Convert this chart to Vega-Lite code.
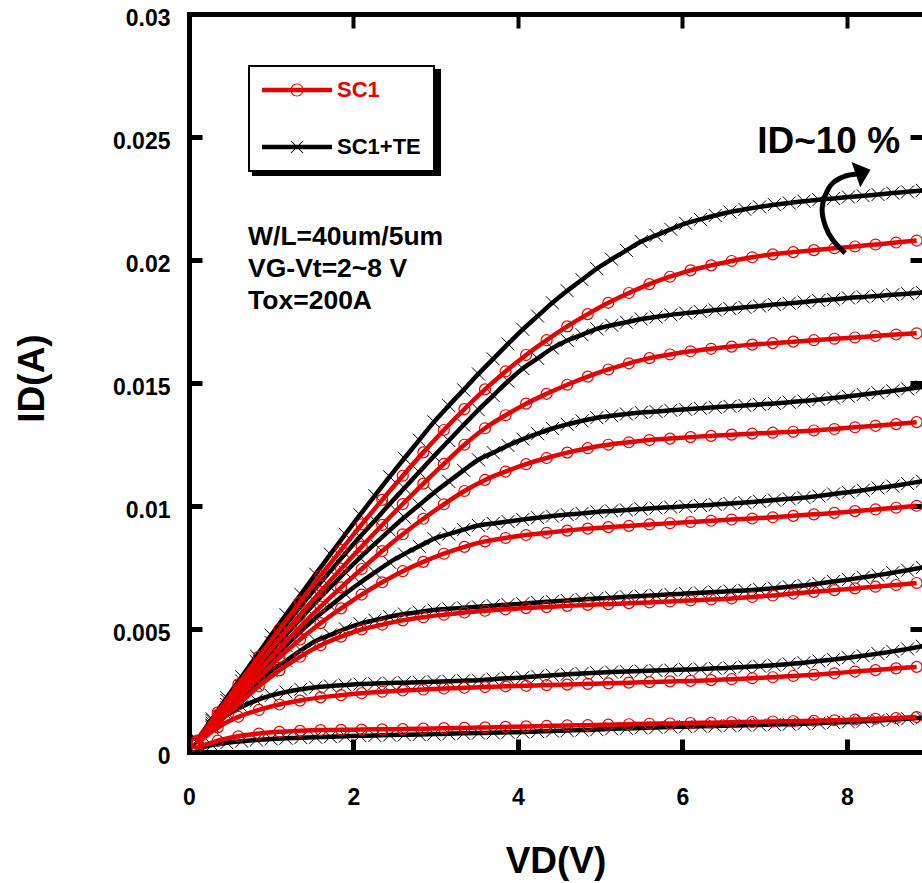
{
"$schema":"https://vega.github.io/schema/vega-lite/v6.json",
"width":733,"height":738,
"autosize":{"type":"none"},
"padding":{"left":189,"top":14,"right":0,"bottom":131},
"background":"white",
"config":{
 "view":{"stroke":null},
 "font":"Liberation Sans",
 "axis":{"grid":false,"domainColor":"black","tickColor":"black","labelColor":"black","titleColor":"black","labelFont":"Liberation Sans","titleFont":"Liberation Sans","labelFontWeight":"bold","titleFontWeight":"bold","domainWidth":5,"domainCap":"square","labelFlush":false},
 "legend":{"strokeWidth":2}
},
"datasets":{
"one":[{"k":1}],
"leg":[{"s":"SC1"},{"s":"SC1+TE"}],
"arrow":[{"i":0,"x":7.98,"y":0.02028},{"i":1,"x":7.83,"y":0.02081},{"i":2,"x":7.74,"y":0.02138},{"i":3,"x":7.70,"y":0.02203},{"i":4,"x":7.74,"y":0.02264},{"i":5,"x":7.83,"y":0.02313},{"i":6,"x":7.98,"y":0.02341},{"i":7,"x":8.12,"y":0.0235}],
"iv":[
{"c":"B7","x":0.1,"y":0.00049},{"c":"B7","x":0.28,"y":0.00135},{"c":"B7","x":0.46,"y":0.00221},{"c":"B7","x":0.64,"y":0.00306},{"c":"B7","x":0.82,"y":0.0039},{"c":"B7","x":1.0,"y":0.00475},{"c":"B7","x":1.18,"y":0.00558},{"c":"B7","x":1.36,"y":0.00641},{"c":"B7","x":1.54,"y":0.00723},{"c":"B7","x":1.72,"y":0.00804},{"c":"B7","x":1.9,"y":0.00885},{"c":"B7","x":2.08,"y":0.00964},{"c":"B7","x":2.26,"y":0.01042},{"c":"B7","x":2.44,"y":0.01119},{"c":"B7","x":2.62,"y":0.01194},{"c":"B7","x":2.8,"y":0.01268},{"c":"B7","x":2.98,"y":0.01342},{"c":"B7","x":3.16,"y":0.01408},{"c":"B7","x":3.34,"y":0.01472},{"c":"B7","x":3.52,"y":0.01537},{"c":"B7","x":3.7,"y":0.01598},{"c":"B7","x":3.88,"y":0.01659},{"c":"B7","x":4.06,"y":0.01718},{"c":"B7","x":4.24,"y":0.01772},{"c":"B7","x":4.42,"y":0.01826},{"c":"B7","x":4.6,"y":0.01875},{"c":"B7","x":4.78,"y":0.0192},{"c":"B7","x":4.96,"y":0.01965},{"c":"B7","x":5.14,"y":0.02003},{"c":"B7","x":5.32,"y":0.02039},{"c":"B7","x":5.5,"y":0.02075},{"c":"B7","x":5.68,"y":0.021},{"c":"B7","x":5.86,"y":0.02125},{"c":"B7","x":6.04,"y":0.02149},{"c":"B7","x":6.22,"y":0.02165},{"c":"B7","x":6.4,"y":0.02181},{"c":"B7","x":6.58,"y":0.02195},{"c":"B7","x":6.76,"y":0.02206},{"c":"B7","x":6.94,"y":0.02216},{"c":"B7","x":7.12,"y":0.02225},{"c":"B7","x":7.3,"y":0.02232},{"c":"B7","x":7.48,"y":0.02239},{"c":"B7","x":7.66,"y":0.02245},{"c":"B7","x":7.84,"y":0.0225},{"c":"B7","x":8.02,"y":0.02256},{"c":"B7","x":8.2,"y":0.02261},{"c":"B7","x":8.38,"y":0.02266},{"c":"B7","x":8.56,"y":0.02272},{"c":"B7","x":8.74,"y":0.02277},{"c":"B7","x":8.92,"y":0.02283},
{"c":"B6","x":0.1,"y":0.00046},{"c":"B6","x":0.28,"y":0.00128},{"c":"B6","x":0.46,"y":0.0021},{"c":"B6","x":0.64,"y":0.00289},{"c":"B6","x":0.82,"y":0.00367},{"c":"B6","x":1.0,"y":0.00445},{"c":"B6","x":1.18,"y":0.00519},{"c":"B6","x":1.36,"y":0.00593},{"c":"B6","x":1.54,"y":0.00666},{"c":"B6","x":1.72,"y":0.00736},{"c":"B6","x":1.9,"y":0.00806},{"c":"B6","x":2.08,"y":0.00875},{"c":"B6","x":2.26,"y":0.00941},{"c":"B6","x":2.44,"y":0.01008},{"c":"B6","x":2.62,"y":0.01073},{"c":"B6","x":2.8,"y":0.01138},{"c":"B6","x":2.98,"y":0.01203},{"c":"B6","x":3.16,"y":0.01266},{"c":"B6","x":3.34,"y":0.01329},{"c":"B6","x":3.52,"y":0.01391},{"c":"B6","x":3.7,"y":0.01449},{"c":"B6","x":3.88,"y":0.01507},{"c":"B6","x":4.06,"y":0.01559},{"c":"B6","x":4.24,"y":0.016},{"c":"B6","x":4.42,"y":0.01642},{"c":"B6","x":4.6,"y":0.01673},{"c":"B6","x":4.78,"y":0.01696},{"c":"B6","x":4.96,"y":0.0172},{"c":"B6","x":5.14,"y":0.01735},{"c":"B6","x":5.32,"y":0.01747},{"c":"B6","x":5.5,"y":0.0176},{"c":"B6","x":5.68,"y":0.01768},{"c":"B6","x":5.86,"y":0.01777},{"c":"B6","x":6.04,"y":0.01784},{"c":"B6","x":6.22,"y":0.0179},{"c":"B6","x":6.4,"y":0.01797},{"c":"B6","x":6.58,"y":0.01802},{"c":"B6","x":6.76,"y":0.01808},{"c":"B6","x":6.94,"y":0.01813},{"c":"B6","x":7.12,"y":0.01819},{"c":"B6","x":7.3,"y":0.01824},{"c":"B6","x":7.48,"y":0.01829},{"c":"B6","x":7.66,"y":0.01835},{"c":"B6","x":7.84,"y":0.0184},{"c":"B6","x":8.02,"y":0.01846},{"c":"B6","x":8.2,"y":0.0185},{"c":"B6","x":8.38,"y":0.01854},{"c":"B6","x":8.56,"y":0.01859},{"c":"B6","x":8.74,"y":0.01863},{"c":"B6","x":8.92,"y":0.01868},
{"c":"B5","x":0.1,"y":0.00042},{"c":"B5","x":0.28,"y":0.00118},{"c":"B5","x":0.46,"y":0.00193},{"c":"B5","x":0.64,"y":0.00266},{"c":"B5","x":0.82,"y":0.00338},{"c":"B5","x":1.0,"y":0.0041},{"c":"B5","x":1.18,"y":0.00477},{"c":"B5","x":1.36,"y":0.00543},{"c":"B5","x":1.54,"y":0.00609},{"c":"B5","x":1.72,"y":0.0067},{"c":"B5","x":1.9,"y":0.00731},{"c":"B5","x":2.08,"y":0.0079},{"c":"B5","x":2.26,"y":0.00846},{"c":"B5","x":2.44,"y":0.00901},{"c":"B5","x":2.62,"y":0.00954},{"c":"B5","x":2.8,"y":0.01004},{"c":"B5","x":2.98,"y":0.01054},{"c":"B5","x":3.16,"y":0.011},{"c":"B5","x":3.34,"y":0.01145},{"c":"B5","x":3.52,"y":0.01188},{"c":"B5","x":3.7,"y":0.01217},{"c":"B5","x":3.88,"y":0.01246},{"c":"B5","x":4.06,"y":0.01272},{"c":"B5","x":4.24,"y":0.01294},{"c":"B5","x":4.42,"y":0.01315},{"c":"B5","x":4.6,"y":0.01332},{"c":"B5","x":4.78,"y":0.01346},{"c":"B5","x":4.96,"y":0.01359},{"c":"B5","x":5.14,"y":0.01367},{"c":"B5","x":5.32,"y":0.01374},{"c":"B5","x":5.5,"y":0.0138},{"c":"B5","x":5.68,"y":0.01384},{"c":"B5","x":5.86,"y":0.01389},{"c":"B5","x":6.04,"y":0.01393},{"c":"B5","x":6.22,"y":0.01397},{"c":"B5","x":6.4,"y":0.01401},{"c":"B5","x":6.58,"y":0.01405},{"c":"B5","x":6.76,"y":0.01409},{"c":"B5","x":6.94,"y":0.01413},{"c":"B5","x":7.12,"y":0.01417},{"c":"B5","x":7.3,"y":0.01422},{"c":"B5","x":7.48,"y":0.01427},{"c":"B5","x":7.66,"y":0.01433},{"c":"B5","x":7.84,"y":0.01439},{"c":"B5","x":8.02,"y":0.01446},{"c":"B5","x":8.2,"y":0.01453},{"c":"B5","x":8.38,"y":0.0146},{"c":"B5","x":8.56,"y":0.01468},{"c":"B5","x":8.74,"y":0.01476},{"c":"B5","x":8.92,"y":0.01484},
{"c":"B4","x":0.1,"y":0.00039},{"c":"B4","x":0.28,"y":0.00109},{"c":"B4","x":0.46,"y":0.00179},{"c":"B4","x":0.64,"y":0.00245},{"c":"B4","x":0.82,"y":0.0031},{"c":"B4","x":1.0,"y":0.00375},{"c":"B4","x":1.18,"y":0.00433},{"c":"B4","x":1.36,"y":0.0049},{"c":"B4","x":1.54,"y":0.00546},{"c":"B4","x":1.72,"y":0.00594},{"c":"B4","x":1.9,"y":0.00643},{"c":"B4","x":2.08,"y":0.00688},{"c":"B4","x":2.26,"y":0.0073},{"c":"B4","x":2.44,"y":0.00771},{"c":"B4","x":2.62,"y":0.00805},{"c":"B4","x":2.8,"y":0.00836},{"c":"B4","x":2.98,"y":0.00867},{"c":"B4","x":3.16,"y":0.00886},{"c":"B4","x":3.34,"y":0.00904},{"c":"B4","x":3.52,"y":0.00921},{"c":"B4","x":3.7,"y":0.00929},{"c":"B4","x":3.88,"y":0.00937},{"c":"B4","x":4.06,"y":0.00945},{"c":"B4","x":4.24,"y":0.00952},{"c":"B4","x":4.42,"y":0.00959},{"c":"B4","x":4.6,"y":0.00965},{"c":"B4","x":4.78,"y":0.0097},{"c":"B4","x":4.96,"y":0.00976},{"c":"B4","x":5.14,"y":0.0098},{"c":"B4","x":5.32,"y":0.00984},{"c":"B4","x":5.5,"y":0.00988},{"c":"B4","x":5.68,"y":0.00992},{"c":"B4","x":5.86,"y":0.00995},{"c":"B4","x":6.04,"y":0.00999},{"c":"B4","x":6.22,"y":0.01002},{"c":"B4","x":6.4,"y":0.01006},{"c":"B4","x":6.58,"y":0.0101},{"c":"B4","x":6.76,"y":0.01014},{"c":"B4","x":6.94,"y":0.01019},{"c":"B4","x":7.12,"y":0.01024},{"c":"B4","x":7.3,"y":0.01029},{"c":"B4","x":7.48,"y":0.01034},{"c":"B4","x":7.66,"y":0.01041},{"c":"B4","x":7.84,"y":0.01049},{"c":"B4","x":8.02,"y":0.01056},{"c":"B4","x":8.2,"y":0.01064},{"c":"B4","x":8.38,"y":0.01073},{"c":"B4","x":8.56,"y":0.01081},{"c":"B4","x":8.74,"y":0.01091},{"c":"B4","x":8.92,"y":0.01101},
{"c":"B3","x":0.1,"y":0.00035},{"c":"B3","x":0.28,"y":0.00098},{"c":"B3","x":0.46,"y":0.00161},{"c":"B3","x":0.64,"y":0.00218},{"c":"B3","x":0.82,"y":0.00274},{"c":"B3","x":1.0,"y":0.0033},{"c":"B3","x":1.18,"y":0.00371},{"c":"B3","x":1.36,"y":0.00413},{"c":"B3","x":1.54,"y":0.00451},{"c":"B3","x":1.72,"y":0.00476},{"c":"B3","x":1.9,"y":0.00501},{"c":"B3","x":2.08,"y":0.00521},{"c":"B3","x":2.26,"y":0.00536},{"c":"B3","x":2.44,"y":0.0055},{"c":"B3","x":2.62,"y":0.00561},{"c":"B3","x":2.8,"y":0.00569},{"c":"B3","x":2.98,"y":0.00577},{"c":"B3","x":3.16,"y":0.00582},{"c":"B3","x":3.34,"y":0.00586},{"c":"B3","x":3.52,"y":0.0059},{"c":"B3","x":3.7,"y":0.00595},{"c":"B3","x":3.88,"y":0.00599},{"c":"B3","x":4.06,"y":0.00603},{"c":"B3","x":4.24,"y":0.00608},{"c":"B3","x":4.42,"y":0.00612},{"c":"B3","x":4.6,"y":0.00616},{"c":"B3","x":4.78,"y":0.0062},{"c":"B3","x":4.96,"y":0.00624},{"c":"B3","x":5.14,"y":0.00627},{"c":"B3","x":5.32,"y":0.00631},{"c":"B3","x":5.5,"y":0.00634},{"c":"B3","x":5.68,"y":0.00637},{"c":"B3","x":5.86,"y":0.00641},{"c":"B3","x":6.04,"y":0.00644},{"c":"B3","x":6.22,"y":0.00647},{"c":"B3","x":6.4,"y":0.0065},{"c":"B3","x":6.58,"y":0.00654},{"c":"B3","x":6.76,"y":0.00657},{"c":"B3","x":6.94,"y":0.00661},{"c":"B3","x":7.12,"y":0.00666},{"c":"B3","x":7.3,"y":0.00672},{"c":"B3","x":7.48,"y":0.00677},{"c":"B3","x":7.66,"y":0.00685},{"c":"B3","x":7.84,"y":0.00693},{"c":"B3","x":8.02,"y":0.00701},{"c":"B3","x":8.2,"y":0.0071},{"c":"B3","x":8.38,"y":0.00719},{"c":"B3","x":8.56,"y":0.00729},{"c":"B3","x":8.74,"y":0.00739},{"c":"B3","x":8.92,"y":0.0075},
{"c":"B2","x":0.1,"y":0.00042},{"c":"B2","x":0.28,"y":0.00105},{"c":"B2","x":0.46,"y":0.0015},{"c":"B2","x":0.64,"y":0.00184},{"c":"B2","x":0.82,"y":0.0021},{"c":"B2","x":1.0,"y":0.0023},{"c":"B2","x":1.18,"y":0.00244},{"c":"B2","x":1.36,"y":0.00255},{"c":"B2","x":1.54,"y":0.00263},{"c":"B2","x":1.72,"y":0.00268},{"c":"B2","x":1.9,"y":0.00272},{"c":"B2","x":2.08,"y":0.00276},{"c":"B2","x":2.26,"y":0.00278},{"c":"B2","x":2.44,"y":0.0028},{"c":"B2","x":2.62,"y":0.00282},{"c":"B2","x":2.8,"y":0.00284},{"c":"B2","x":2.98,"y":0.00286},{"c":"B2","x":3.16,"y":0.00288},{"c":"B2","x":3.34,"y":0.0029},{"c":"B2","x":3.52,"y":0.00292},{"c":"B2","x":3.7,"y":0.00296},{"c":"B2","x":3.88,"y":0.003},{"c":"B2","x":4.06,"y":0.00303},{"c":"B2","x":4.24,"y":0.00308},{"c":"B2","x":4.42,"y":0.00312},{"c":"B2","x":4.6,"y":0.00316},{"c":"B2","x":4.78,"y":0.00319},{"c":"B2","x":4.96,"y":0.00322},{"c":"B2","x":5.14,"y":0.00325},{"c":"B2","x":5.32,"y":0.00327},{"c":"B2","x":5.5,"y":0.00329},{"c":"B2","x":5.68,"y":0.00331},{"c":"B2","x":5.86,"y":0.00333},{"c":"B2","x":6.04,"y":0.00335},{"c":"B2","x":6.22,"y":0.00337},{"c":"B2","x":6.4,"y":0.0034},{"c":"B2","x":6.58,"y":0.00342},{"c":"B2","x":6.76,"y":0.00346},{"c":"B2","x":6.94,"y":0.00349},{"c":"B2","x":7.12,"y":0.00353},{"c":"B2","x":7.3,"y":0.00358},{"c":"B2","x":7.48,"y":0.00363},{"c":"B2","x":7.66,"y":0.0037},{"c":"B2","x":7.84,"y":0.00376},{"c":"B2","x":8.02,"y":0.00383},{"c":"B2","x":8.2,"y":0.00391},{"c":"B2","x":8.38,"y":0.004},{"c":"B2","x":8.56,"y":0.00409},{"c":"B2","x":8.74,"y":0.00419},{"c":"B2","x":8.92,"y":0.0043},
{"c":"B1","x":0.1,"y":0.00013},{"c":"B1","x":0.28,"y":0.00028},{"c":"B1","x":0.46,"y":0.00038},{"c":"B1","x":0.64,"y":0.00044},{"c":"B1","x":0.82,"y":0.00049},{"c":"B1","x":1.0,"y":0.00053},{"c":"B1","x":1.18,"y":0.00056},{"c":"B1","x":1.36,"y":0.00058},{"c":"B1","x":1.54,"y":0.0006},{"c":"B1","x":1.72,"y":0.00062},{"c":"B1","x":1.9,"y":0.00064},{"c":"B1","x":2.08,"y":0.00066},{"c":"B1","x":2.26,"y":0.00067},{"c":"B1","x":2.44,"y":0.00069},{"c":"B1","x":2.62,"y":0.0007},{"c":"B1","x":2.8,"y":0.00071},{"c":"B1","x":2.98,"y":0.00073},{"c":"B1","x":3.16,"y":0.00074},{"c":"B1","x":3.34,"y":0.00076},{"c":"B1","x":3.52,"y":0.00077},{"c":"B1","x":3.7,"y":0.00078},{"c":"B1","x":3.88,"y":0.0008},{"c":"B1","x":4.06,"y":0.00081},{"c":"B1","x":4.24,"y":0.00083},{"c":"B1","x":4.42,"y":0.00085},{"c":"B1","x":4.6,"y":0.00087},{"c":"B1","x":4.78,"y":0.00089},{"c":"B1","x":4.96,"y":0.00091},{"c":"B1","x":5.14,"y":0.00094},{"c":"B1","x":5.32,"y":0.00096},{"c":"B1","x":5.5,"y":0.00098},{"c":"B1","x":5.68,"y":0.001},{"c":"B1","x":5.86,"y":0.00102},{"c":"B1","x":6.04,"y":0.00103},{"c":"B1","x":6.22,"y":0.00105},{"c":"B1","x":6.4,"y":0.00106},{"c":"B1","x":6.58,"y":0.00107},{"c":"B1","x":6.76,"y":0.00109},{"c":"B1","x":6.94,"y":0.0011},{"c":"B1","x":7.12,"y":0.00112},{"c":"B1","x":7.3,"y":0.00113},{"c":"B1","x":7.48,"y":0.00115},{"c":"B1","x":7.66,"y":0.00117},{"c":"B1","x":7.84,"y":0.0012},{"c":"B1","x":8.02,"y":0.00122},{"c":"B1","x":8.2,"y":0.00125},{"c":"B1","x":8.38,"y":0.00128},{"c":"B1","x":8.56,"y":0.00131},{"c":"B1","x":8.74,"y":0.00135},{"c":"B1","x":8.92,"y":0.00139},
{"c":"R7","x":0.1,"y":0.00046},{"c":"R7","x":0.35,"y":0.00161},{"c":"R7","x":0.6,"y":0.00275},{"c":"R7","x":0.85,"y":0.00388},{"c":"R7","x":1.1,"y":0.00499},{"c":"R7","x":1.35,"y":0.00609},{"c":"R7","x":1.6,"y":0.00717},{"c":"R7","x":1.85,"y":0.00822},{"c":"R7","x":2.1,"y":0.00925},{"c":"R7","x":2.35,"y":0.01025},{"c":"R7","x":2.6,"y":0.01123},{"c":"R7","x":2.85,"y":0.01218},{"c":"R7","x":3.1,"y":0.01309},{"c":"R7","x":3.35,"y":0.01394},{"c":"R7","x":3.6,"y":0.01474},{"c":"R7","x":3.85,"y":0.01547},{"c":"R7","x":4.1,"y":0.01614},{"c":"R7","x":4.35,"y":0.01674},{"c":"R7","x":4.6,"y":0.0173},{"c":"R7","x":4.85,"y":0.0178},{"c":"R7","x":5.1,"y":0.01826},{"c":"R7","x":5.35,"y":0.01866},{"c":"R7","x":5.6,"y":0.01902},{"c":"R7","x":5.85,"y":0.01932},{"c":"R7","x":6.1,"y":0.01958},{"c":"R7","x":6.35,"y":0.01978},{"c":"R7","x":6.6,"y":0.01996},{"c":"R7","x":6.85,"y":0.02011},{"c":"R7","x":7.1,"y":0.02023},{"c":"R7","x":7.35,"y":0.02032},{"c":"R7","x":7.6,"y":0.0204},{"c":"R7","x":7.85,"y":0.02048},{"c":"R7","x":8.1,"y":0.02055},{"c":"R7","x":8.35,"y":0.02063},{"c":"R7","x":8.6,"y":0.02071},{"c":"R7","x":8.85,"y":0.02079},
{"c":"R6","x":0.1,"y":0.00043},{"c":"R6","x":0.35,"y":0.00151},{"c":"R6","x":0.6,"y":0.00256},{"c":"R6","x":0.85,"y":0.00359},{"c":"R6","x":1.1,"y":0.00459},{"c":"R6","x":1.35,"y":0.00557},{"c":"R6","x":1.6,"y":0.00652},{"c":"R6","x":1.85,"y":0.00745},{"c":"R6","x":2.1,"y":0.00835},{"c":"R6","x":2.35,"y":0.00923},{"c":"R6","x":2.6,"y":0.01008},{"c":"R6","x":2.85,"y":0.01091},{"c":"R6","x":3.1,"y":0.01171},{"c":"R6","x":3.35,"y":0.01249},{"c":"R6","x":3.6,"y":0.01316},{"c":"R6","x":3.85,"y":0.01369},{"c":"R6","x":4.1,"y":0.01416},{"c":"R6","x":4.35,"y":0.01456},{"c":"R6","x":4.6,"y":0.01493},{"c":"R6","x":4.85,"y":0.01526},{"c":"R6","x":5.1,"y":0.01555},{"c":"R6","x":5.35,"y":0.0158},{"c":"R6","x":5.6,"y":0.01601},{"c":"R6","x":5.85,"y":0.01616},{"c":"R6","x":6.1,"y":0.01629},{"c":"R6","x":6.35,"y":0.01639},{"c":"R6","x":6.6,"y":0.01648},{"c":"R6","x":6.85,"y":0.01656},{"c":"R6","x":7.1,"y":0.01662},{"c":"R6","x":7.35,"y":0.01668},{"c":"R6","x":7.6,"y":0.01674},{"c":"R6","x":7.85,"y":0.0168},{"c":"R6","x":8.1,"y":0.01685},{"c":"R6","x":8.35,"y":0.01691},{"c":"R6","x":8.6,"y":0.01697},{"c":"R6","x":8.85,"y":0.01702},
{"c":"R5","x":0.1,"y":0.0004},{"c":"R5","x":0.35,"y":0.00139},{"c":"R5","x":0.6,"y":0.00235},{"c":"R5","x":0.85,"y":0.00329},{"c":"R5","x":1.1,"y":0.0042},{"c":"R5","x":1.35,"y":0.00508},{"c":"R5","x":1.6,"y":0.00591},{"c":"R5","x":1.85,"y":0.00669},{"c":"R5","x":2.1,"y":0.00744},{"c":"R5","x":2.35,"y":0.00817},{"c":"R5","x":2.6,"y":0.00885},{"c":"R5","x":2.85,"y":0.00948},{"c":"R5","x":3.1,"y":0.01007},{"c":"R5","x":3.35,"y":0.01061},{"c":"R5","x":3.6,"y":0.01106},{"c":"R5","x":3.85,"y":0.0114},{"c":"R5","x":4.1,"y":0.0117},{"c":"R5","x":4.35,"y":0.01195},{"c":"R5","x":4.6,"y":0.01217},{"c":"R5","x":4.85,"y":0.01235},{"c":"R5","x":5.1,"y":0.01249},{"c":"R5","x":5.35,"y":0.01259},{"c":"R5","x":5.6,"y":0.01268},{"c":"R5","x":5.85,"y":0.01274},{"c":"R5","x":6.1,"y":0.0128},{"c":"R5","x":6.35,"y":0.01285},{"c":"R5","x":6.6,"y":0.0129},{"c":"R5","x":6.85,"y":0.01294},{"c":"R5","x":7.1,"y":0.01298},{"c":"R5","x":7.35,"y":0.01302},{"c":"R5","x":7.6,"y":0.01307},{"c":"R5","x":7.85,"y":0.01313},{"c":"R5","x":8.1,"y":0.0132},{"c":"R5","x":8.35,"y":0.01326},{"c":"R5","x":8.6,"y":0.01333},{"c":"R5","x":8.85,"y":0.01341},
{"c":"R4","x":0.1,"y":0.00037},{"c":"R4","x":0.35,"y":0.0013},{"c":"R4","x":0.6,"y":0.00219},{"c":"R4","x":0.85,"y":0.00304},{"c":"R4","x":1.1,"y":0.00384},{"c":"R4","x":1.35,"y":0.00457},{"c":"R4","x":1.6,"y":0.00524},{"c":"R4","x":1.85,"y":0.00584},{"c":"R4","x":2.1,"y":0.0064},{"c":"R4","x":2.35,"y":0.0069},{"c":"R4","x":2.6,"y":0.00735},{"c":"R4","x":2.85,"y":0.00773},{"c":"R4","x":3.1,"y":0.00806},{"c":"R4","x":3.35,"y":0.00834},{"c":"R4","x":3.6,"y":0.00856},{"c":"R4","x":3.85,"y":0.0087},{"c":"R4","x":4.1,"y":0.00882},{"c":"R4","x":4.35,"y":0.00891},{"c":"R4","x":4.6,"y":0.009},{"c":"R4","x":4.85,"y":0.00908},{"c":"R4","x":5.1,"y":0.00914},{"c":"R4","x":5.35,"y":0.00919},{"c":"R4","x":5.6,"y":0.00925},{"c":"R4","x":5.85,"y":0.0093},{"c":"R4","x":6.1,"y":0.00935},{"c":"R4","x":6.35,"y":0.0094},{"c":"R4","x":6.6,"y":0.00945},{"c":"R4","x":6.85,"y":0.00949},{"c":"R4","x":7.1,"y":0.00954},{"c":"R4","x":7.35,"y":0.0096},{"c":"R4","x":7.6,"y":0.00966},{"c":"R4","x":7.85,"y":0.00972},{"c":"R4","x":8.1,"y":0.00979},{"c":"R4","x":8.35,"y":0.00986},{"c":"R4","x":8.6,"y":0.00993},{"c":"R4","x":8.85,"y":0.01001},
{"c":"R3","x":0.1,"y":0.00033},{"c":"R3","x":0.35,"y":0.00116},{"c":"R3","x":0.6,"y":0.00194},{"c":"R3","x":0.85,"y":0.00267},{"c":"R3","x":1.1,"y":0.00332},{"c":"R3","x":1.35,"y":0.00387},{"c":"R3","x":1.6,"y":0.00434},{"c":"R3","x":1.85,"y":0.00469},{"c":"R3","x":2.1,"y":0.00498},{"c":"R3","x":2.35,"y":0.00518},{"c":"R3","x":2.6,"y":0.00535},{"c":"R3","x":2.85,"y":0.00548},{"c":"R3","x":3.1,"y":0.00558},{"c":"R3","x":3.35,"y":0.00567},{"c":"R3","x":3.6,"y":0.00574},{"c":"R3","x":3.85,"y":0.0058},{"c":"R3","x":4.1,"y":0.00585},{"c":"R3","x":4.35,"y":0.00589},{"c":"R3","x":4.6,"y":0.00594},{"c":"R3","x":4.85,"y":0.00598},{"c":"R3","x":5.1,"y":0.00601},{"c":"R3","x":5.35,"y":0.00605},{"c":"R3","x":5.6,"y":0.00608},{"c":"R3","x":5.85,"y":0.00612},{"c":"R3","x":6.1,"y":0.00616},{"c":"R3","x":6.35,"y":0.0062},{"c":"R3","x":6.6,"y":0.00624},{"c":"R3","x":6.85,"y":0.0063},{"c":"R3","x":7.1,"y":0.00636},{"c":"R3","x":7.35,"y":0.00644},{"c":"R3","x":7.6,"y":0.00651},{"c":"R3","x":7.85,"y":0.00658},{"c":"R3","x":8.1,"y":0.00665},{"c":"R3","x":8.35,"y":0.00672},{"c":"R3","x":8.6,"y":0.00679},{"c":"R3","x":8.85,"y":0.00687},
{"c":"R2","x":0.1,"y":0.00034},{"c":"R2","x":0.35,"y":0.001},{"c":"R2","x":0.6,"y":0.00143},{"c":"R2","x":0.85,"y":0.00171},{"c":"R2","x":1.1,"y":0.00193},{"c":"R2","x":1.35,"y":0.00209},{"c":"R2","x":1.6,"y":0.00222},{"c":"R2","x":1.85,"y":0.00231},{"c":"R2","x":2.1,"y":0.00239},{"c":"R2","x":2.35,"y":0.00245},{"c":"R2","x":2.6,"y":0.0025},{"c":"R2","x":2.85,"y":0.00254},{"c":"R2","x":3.1,"y":0.00258},{"c":"R2","x":3.35,"y":0.00261},{"c":"R2","x":3.6,"y":0.00264},{"c":"R2","x":3.85,"y":0.00267},{"c":"R2","x":4.1,"y":0.00269},{"c":"R2","x":4.35,"y":0.00272},{"c":"R2","x":4.6,"y":0.00274},{"c":"R2","x":4.85,"y":0.00277},{"c":"R2","x":5.1,"y":0.00279},{"c":"R2","x":5.35,"y":0.00282},{"c":"R2","x":5.6,"y":0.00284},{"c":"R2","x":5.85,"y":0.00287},{"c":"R2","x":6.1,"y":0.00289},{"c":"R2","x":6.35,"y":0.00292},{"c":"R2","x":6.6,"y":0.00296},{"c":"R2","x":6.85,"y":0.003},{"c":"R2","x":7.1,"y":0.00304},{"c":"R2","x":7.35,"y":0.00309},{"c":"R2","x":7.6,"y":0.00314},{"c":"R2","x":7.85,"y":0.0032},{"c":"R2","x":8.1,"y":0.00327},{"c":"R2","x":8.35,"y":0.00333},{"c":"R2","x":8.6,"y":0.0034},{"c":"R2","x":8.85,"y":0.00346},
{"c":"R1","x":0.1,"y":0.00018},{"c":"R1","x":0.35,"y":0.00046},{"c":"R1","x":0.6,"y":0.00064},{"c":"R1","x":0.85,"y":0.00075},{"c":"R1","x":1.1,"y":0.00082},{"c":"R1","x":1.35,"y":0.00086},{"c":"R1","x":1.6,"y":0.00089},{"c":"R1","x":1.85,"y":0.0009},{"c":"R1","x":2.1,"y":0.00091},{"c":"R1","x":2.35,"y":0.00092},{"c":"R1","x":2.6,"y":0.00093},{"c":"R1","x":2.85,"y":0.00095},{"c":"R1","x":3.1,"y":0.00097},{"c":"R1","x":3.35,"y":0.00098},{"c":"R1","x":3.6,"y":0.001},{"c":"R1","x":3.85,"y":0.00102},{"c":"R1","x":4.1,"y":0.00104},{"c":"R1","x":4.35,"y":0.00106},{"c":"R1","x":4.6,"y":0.00108},{"c":"R1","x":4.85,"y":0.00109},{"c":"R1","x":5.1,"y":0.00111},{"c":"R1","x":5.35,"y":0.00113},{"c":"R1","x":5.6,"y":0.00115},{"c":"R1","x":5.85,"y":0.00116},{"c":"R1","x":6.1,"y":0.00118},{"c":"R1","x":6.35,"y":0.00119},{"c":"R1","x":6.6,"y":0.00121},{"c":"R1","x":6.85,"y":0.00122},{"c":"R1","x":7.1,"y":0.00124},{"c":"R1","x":7.35,"y":0.00125},{"c":"R1","x":7.6,"y":0.00127},{"c":"R1","x":7.85,"y":0.00129},{"c":"R1","x":8.1,"y":0.00132},{"c":"R1","x":8.35,"y":0.00135},{"c":"R1","x":8.6,"y":0.00138},{"c":"R1","x":8.85,"y":0.00142}
]},
"resolve":{"axis":{"x":"independent","y":"independent"}},
"layer":[
{
 "data":{"name":"iv"},
 "transform":[{"filter":"indexof(datum.c,'B')==0"}],
 "mark":{"type":"line","color":"black","strokeWidth":4.5,"interpolate":"monotone","clip":true},
 "encoding":{
  "x":{"field":"x","type":"quantitative","scale":{"domain":[0,8.915],"nice":false,"zero":false},
   "axis":{"orient":"bottom","values":[0,2,4,6,8],"format":"d","tickSize":-13,"tickWidth":5,"labelFontSize":23,"labelPadding":47,"title":"VD(V)","titleFontSize":37,"titleY":120,"titleBaseline":"alphabetic"}},
  "y":{"field":"y","type":"quantitative","scale":{"domain":[0,0.03],"nice":false},
   "axis":{"orient":"left","values":[0,0.005,0.01,0.015,0.02,0.025,0.03],"format":"~g","tickSize":-13,"tickWidth":5,"labelFontSize":23,"labelPadding":32,"labelOffset":4,"title":"ID(A)","titleFontSize":37,"titleAngle":270,"titleX":-146,"titleY":364,"titleBaseline":"alphabetic"}},
  "detail":{"field":"c"}
 }
},
{
 "data":{"name":"iv"},
 "transform":[{"filter":"indexof(datum.c,'B')==0"}],
 "mark":{"type":"point","shape":"M-1,-1L1,1M1,-1L-1,1","filled":false,"stroke":"black","strokeWidth":1,"size":169,"opacity":1,"clip":true},
 "encoding":{
  "x":{"field":"x","type":"quantitative","scale":{"domain":[0,8.915],"nice":false,"zero":false},
   "axis":{"orient":"top","values":[0,2,4,6,8],"labels":false,"tickSize":-14,"tickWidth":4,"title":null}},
  "y":{"field":"y","type":"quantitative","scale":{"domain":[0,0.03],"nice":false},
   "axis":{"orient":"right","values":[0.005,0.01,0.015,0.02,0.025],"labels":false,"domain":false,"tickSize":-12,"tickWidth":5,"title":null}}
 }
},
{
 "data":{"name":"iv"},
 "transform":[{"filter":"indexof(datum.c,'R')==0"}],
 "mark":{"type":"line","color":"#e60000","strokeWidth":4.5,"interpolate":"monotone","clip":true},
 "encoding":{
  "x":{"field":"x","type":"quantitative","scale":{"domain":[0,8.915],"nice":false,"zero":false},"axis":null},
  "y":{"field":"y","type":"quantitative","scale":{"domain":[0,0.03],"nice":false},"axis":null},
  "detail":{"field":"c"}
 }
},
{
 "data":{"name":"iv"},
 "transform":[{"filter":"indexof(datum.c,'R')==0"}],
 "mark":{"type":"point","shape":"circle","filled":false,"stroke":"#e60000","strokeWidth":1.2,"size":120,"opacity":1,"clip":true},
 "encoding":{
  "x":{"field":"x","type":"quantitative","scale":{"domain":[0,8.915],"nice":false,"zero":false},"axis":null},
  "y":{"field":"y","type":"quantitative","scale":{"domain":[0,0.03],"nice":false},"axis":null}
 }
},
{
 "data":{"name":"arrow"},
 "mark":{"type":"line","color":"black","strokeWidth":5,"interpolate":"cardinal","strokeCap":"butt"},
 "encoding":{
  "x":{"field":"x","type":"quantitative","scale":{"domain":[0,8.915],"nice":false,"zero":false},"axis":null},
  "y":{"field":"y","type":"quantitative","scale":{"domain":[0,0.03],"nice":false},"axis":null},
  "order":{"field":"i","type":"quantitative"}
 }
},
{
 "data":{"name":"one"},
 "mark":{"type":"point","shape":"M1,0L-1,-1.72L-1,1.72Z","filled":true,"color":"black","opacity":1,"size":240,"angle":341},
 "encoding":{
  "x":{"datum":8.2,"type":"quantitative","scale":{"domain":[0,8.915],"nice":false,"zero":false},"axis":null},
  "y":{"datum":0.02357,"type":"quantitative","scale":{"domain":[0,0.03],"nice":false},"axis":null}
 }
},
{
 "data":{"name":"one"},
 "mark":{"type":"text","text":["W/L=40um/5um","VG-Vt=2~8 V","Tox=200A"],"lineHeight":32,"align":"left","baseline":"alphabetic","font":"Liberation Sans","fontWeight":"bold","fontSize":26.5,"color":"black"},
 "encoding":{
  "x":{"datum":0.718,"type":"quantitative","scale":{"domain":[0,8.915],"nice":false,"zero":false},"axis":null},
  "y":{"datum":0.02061,"type":"quantitative","scale":{"domain":[0,0.03],"nice":false},"axis":null}
 }
},
{
 "data":{"name":"one"},
 "mark":{"type":"text","text":"ID~10 %","align":"left","baseline":"alphabetic","font":"Liberation Sans","fontWeight":"bold","fontSize":37,"color":"black"},
 "encoding":{
  "x":{"datum":6.91,"type":"quantitative","scale":{"domain":[0,8.915],"nice":false,"zero":false},"axis":null},
  "y":{"datum":0.02435,"type":"quantitative","scale":{"domain":[0,0.03],"nice":false},"axis":null}
 }
},
{
 "data":{"name":"leg"},
 "mark":{"type":"point","filled":true,"opacity":0},
 "encoding":{
  "stroke":{"field":"s","type":"nominal","scale":{"domain":["SC1+TE","SC1"],"range":["black","black"]},
   "legend":{"title":null,"orient":"none","legendX":64,"legendY":56,"padding":13,"symbolSize":100,"symbolType":"M-2,-1H30V1H-2Z","symbolStrokeWidth":0,"symbolOpacity":0,"symbolOffset":0,"labelOffset":0,"rowPadding":35,"labelFontSize":22,"labelExpr":"''","strokeColor":"black","fillColor":"black","zindex":1}},
  "fill":{"field":"s","type":"nominal","scale":{"domain":["SC1","SC1+TE"],"range":["#e60000","black"]},
   "legend":{"title":null,"orient":"none","legendX":60,"legendY":52,"padding":13,"symbolSize":100,"symbolStrokeWidth":0,"symbolOpacity":1,"symbolOffset":24,"labelOffset":29,"rowPadding":35,"labelFont":"Liberation Sans","labelFontWeight":"bold","labelFontSize":22,"labelColor":{"expr":"datum.value == 'SC1' ? '#e60000' : 'black'"},"strokeColor":"black","fillColor":"white","zindex":2}},
  "shape":{"field":"s","type":"nominal","scale":{"domain":["SC1","SC1+TE"],"range":["M-7,-0.45H7V0.45H-7ZM1.3,0A1.3,1.3,0,1,1,-1.3,0A1.3,1.3,0,1,1,1.3,0ZM1.1,0A1.1,1.1,0,1,0,-1.1,0A1.1,1.1,0,1,0,1.1,0Z","M-7,-0.45H7V0.45H-7ZM-1.27,-1.13L-1.13,-1.27L1.27,1.13L1.13,1.27ZM1.13,-1.27L1.27,-1.13L-1.13,1.27L-1.27,1.13Z"]},
   "legend":{"title":null,"orient":"none","legendX":60,"legendY":52,"padding":13,"symbolSize":100,"symbolStrokeWidth":0,"symbolOpacity":1,"symbolOffset":24,"labelOffset":29,"rowPadding":35,"labelFont":"Liberation Sans","labelFontWeight":"bold","labelFontSize":22,"labelColor":{"expr":"datum.value == 'SC1' ? '#e60000' : 'black'"},"strokeColor":"black","fillColor":"white","zindex":2}}
 }
}
]
}
